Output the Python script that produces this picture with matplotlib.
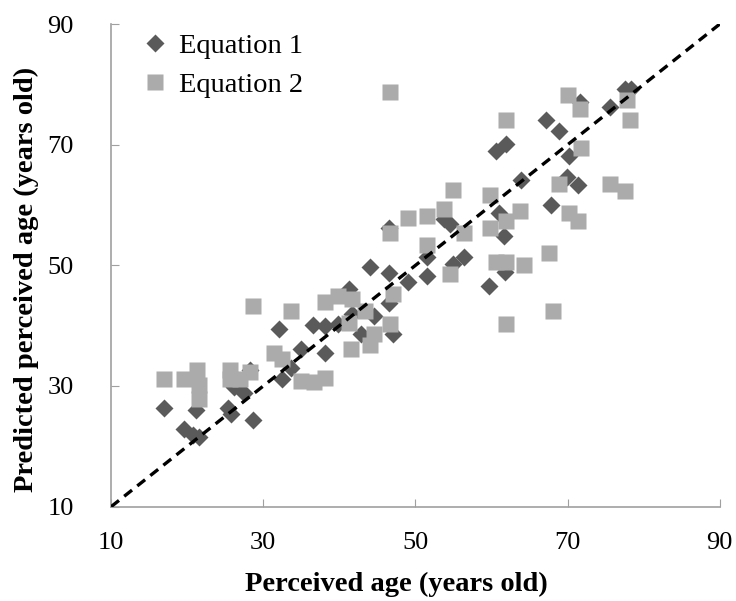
import matplotlib
matplotlib.use("Agg")
import matplotlib.pyplot as plt

plt.rcParams["font.family"] = ["Liberation Serif", "DejaVu Serif"]

# Equation 1 (dark diamonds): perceived age vs predicted age
eq1_x = [17.0, 19.6, 21.2, 20.7, 21.6, 25.3, 25.7, 26.2, 27.5, 28.7, 28.3,
         32.0, 32.4, 33.6, 35.0, 36.5, 38.1, 38.1, 39.8, 41.2, 41.7, 42.9,
         44.0, 44.6, 46.5, 46.5, 47.1, 46.5, 49.0, 51.5, 51.5, 53.7, 54.5,
         54.9, 56.4, 59.6, 60.6, 61.9, 61.0, 61.7, 61.8, 63.9, 67.2, 67.8,
         68.8, 70.2, 69.9, 71.3, 71.6, 75.6, 77.5, 78.3]
eq1_y = [26.3, 22.8, 26.0, 21.9, 21.6, 26.3, 25.4, 29.8, 28.9, 24.4, 32.7,
         39.5, 31.1, 33.0, 36.2, 40.1, 40.0, 35.5, 40.3, 46.0, 41.9, 38.7,
         49.7, 41.6, 48.7, 43.8, 38.7, 56.2, 47.3, 48.2, 51.3, 57.6, 56.9,
         50.3, 51.3, 46.6, 69.0, 70.1, 58.7, 54.9, 48.9, 64.2, 74.1, 60.0,
         72.2, 68.2, 64.6, 63.3, 77.1, 76.2, 79.3, 79.3]

# Equation 2 (light squares)
eq2_x = [17.0, 19.6, 21.3, 21.6, 21.6, 25.6, 25.6, 26.9, 28.3, 28.7, 31.4,
         32.4, 33.6, 35.0, 36.6, 38.1, 38.1, 39.8, 41.2, 41.7, 41.5, 43.4,
         44.0, 44.6, 46.6, 46.6, 46.6, 47.1, 49.0, 51.5, 51.5, 53.7, 54.9,
         54.5, 56.4, 59.8, 59.8, 60.6, 61.9, 61.9, 61.9, 61.9, 63.8, 64.2,
         67.5, 68.1, 68.8, 70.1, 70.2, 71.4, 71.6, 71.7, 75.6, 77.5, 77.8,
         78.2]
eq2_y = [31.2, 31.2, 32.7, 30.1, 27.9, 32.7, 31.1, 31.1, 32.3, 43.3, 35.4,
         34.4, 42.5, 30.9, 30.6, 31.4, 43.9, 45.0, 40.5, 44.4, 36.2, 42.4,
         36.8, 38.7, 78.7, 55.4, 40.3, 45.3, 57.9, 58.1, 53.3, 59.3, 62.5,
         48.5, 55.4, 61.7, 56.2, 50.6, 74.1, 57.4, 50.6, 40.3, 59.0, 50.1,
         52.0, 42.4, 63.5, 78.2, 58.6, 57.4, 75.9, 69.5, 63.5, 62.3, 77.4,
         74.1]

ticks = [10, 30, 50, 70, 90]

fig = plt.figure(figsize=(7.36, 6.01), dpi=100)
ax = fig.add_axes([0.151, 0.157, 0.827, 0.803])

ax.plot(eq1_x, eq1_y, "D", color="#5a5a5a", ms=9.5, mec="none",
        label="Equation 1", zorder=3)
ax.plot(eq2_x, eq2_y, "s", color="#ababab", ms=11, mec="none",
        label="Equation 2", zorder=4)
ax.plot(ticks[::4], ticks[::4], "--", color="black", lw=2.4,
        dashes=(3, 2), zorder=5)

ax.set_xlim(10, 90)
ax.set_ylim(10, 90)
ax.set_xticks(ticks)
ax.set_yticks(ticks)
ax.tick_params(direction="in", length=6, color="#a0a0a0", labelsize=19)
ax.tick_params(axis="x", pad=18)
ax.tick_params(axis="y", pad=27)
for side in ("top", "right"):
    ax.spines[side].set_visible(False)
for side in ("left", "bottom"):
    ax.spines[side].set_color("#a0a0a0")
    ax.spines[side].set_linewidth(1.2)

ax.set_xlabel("Perceived age (years old)", fontsize=20.5, fontweight="bold",
              va="top")
ax.set_ylabel("Predicted perceived age (years old)", fontsize=20.5,
              fontweight="bold")
ax.xaxis.set_label_coords(0.469, -0.135)
ax.yaxis.set_label_coords(-0.118, 0.47)

ax.legend(loc="upper left", frameon=False, fontsize=20.5, handletextpad=0.35,
          labelspacing=0.45, borderaxespad=0.0, handlelength=1.0,
          bbox_to_anchor=(0.03, 1.005))

fig.savefig("out.png", dpi=100)
